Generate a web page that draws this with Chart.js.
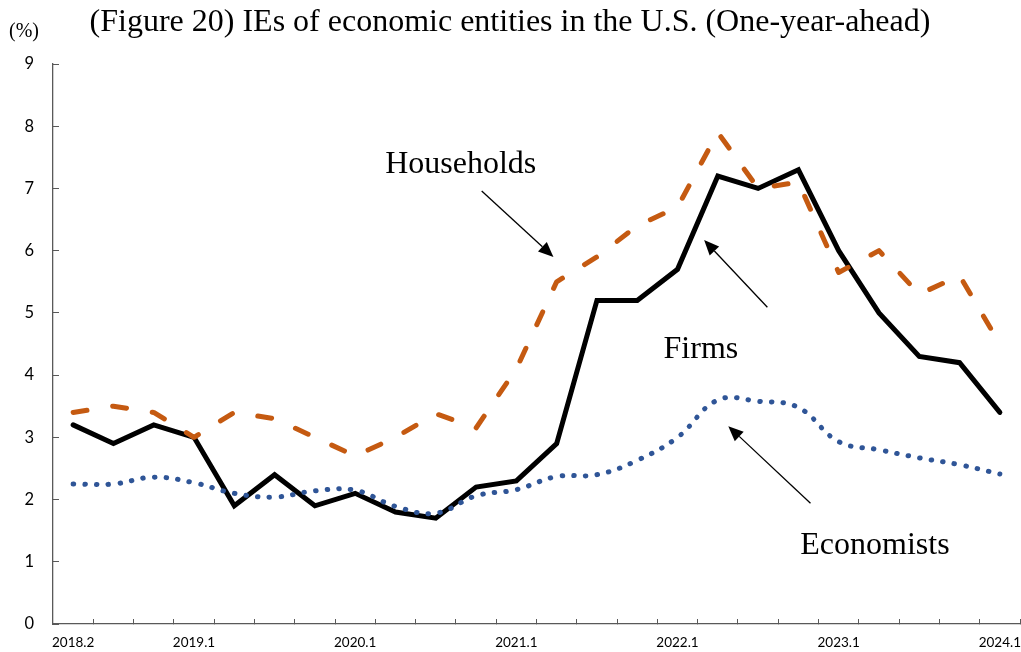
<!DOCTYPE html>
<html>
<head>
<meta charset="utf-8">
<script src="https://cdn.jsdelivr.net/npm/chart.js@4.4.1/dist/chart.umd.min.js"></script>
<style>
  html, body { margin: 0; padding: 0; background: #fff; }
  #wrap { width: 1021px; height: 652px; }
</style>
</head>
<body>
<div id="wrap"><canvas id="ies" width="1021" height="652"></canvas></div>
<script>
// quarters, 2018.2 .. 2024.1
const quarters = [
  '2018.2','2018.3','2018.4',
  '2019.1','2019.2','2019.3','2019.4',
  '2020.1','2020.2','2020.3','2020.4',
  '2021.1','2021.2','2021.3','2021.4',
  '2022.1','2022.2','2022.3','2022.4',
  '2023.1','2023.2','2023.3','2023.4',
  '2024.1'
];
const households = [3.4, 3.5, 3.4, 3.0, 3.4, 3.3, 3.0, 2.7, 3.0, 3.38, 3.15, 4.1, 5.5, 5.9, 6.4, 6.7, 7.9, 7.0, 7.1, 5.65, 6.0, 5.3, 5.6, 4.5];
const firms      = [3.2, 2.9, 3.2, 3.0, 1.9, 2.4, 1.9, 2.1, 1.8, 1.7, 2.2, 2.3, 2.9, 5.2, 5.2, 5.7, 7.2, 7.0, 7.3, 6.0, 5.0, 4.3, 4.2, 3.4];
const economists = [2.25, 2.25, 2.36, 2.27, 2.1, 2.04, 2.14, 2.15, 1.89, 1.78, 2.06, 2.16, 2.37, 2.4, 2.63, 3.0, 3.6, 3.58, 3.48, 2.93, 2.8, 2.67, 2.56, 2.41];
const yTicks = [0, 1, 2, 3, 4, 5, 6, 7, 8, 9];

// series names written next to the lines (x = quarter index, y = %)
const notes = [
  { text: 'Households', x: 9.62,  y: 7.25 },
  { text: 'Firms',      x: 15.58, y: 4.28 },
  { text: 'Economists', x: 19.90, y: 1.125 }
];
const pointers = [
  { from: [10.14, 6.96], to: [11.92, 5.90] },
  { from: [17.23, 5.09], to: [15.66, 6.17] },
  { from: [18.30, 1.94], to: [16.26, 3.18] }
];

const serif = '"Liberation Serif", "Times New Roman", serif';
const axisColor = '#595959';

const annotate = {
  id: 'annotate',
  afterDraw(chart) {
    const ctx = chart.ctx;
    const xs = chart.scales.x, ys = chart.scales.y;
    ctx.save();
    ctx.fillStyle = '#000';
    ctx.font = '20px ' + serif;
    ctx.textAlign = 'left';
    ctx.textBaseline = 'alphabetic';
    ctx.fillText('(%)', 9, 37);

    ctx.font = '32px ' + serif;
    ctx.textAlign = 'center';
    notes.forEach(n => {
      ctx.fillText(n.text, xs.getPixelForValue(n.x), ys.getPixelForValue(n.y));
    });

    ctx.strokeStyle = '#000';
    ctx.lineWidth = 1.3;
    pointers.forEach(p => {
      const x1 = xs.getPixelForValue(p.from[0]), y1 = ys.getPixelForValue(p.from[1]);
      const x2 = xs.getPixelForValue(p.to[0]),   y2 = ys.getPixelForValue(p.to[1]);
      const a = Math.atan2(y2 - y1, x2 - x1);
      const len = 15, half = 6.5;
      const bx = x2 - len * Math.cos(a), by = y2 - len * Math.sin(a);
      ctx.beginPath();
      ctx.moveTo(x1, y1);
      ctx.lineTo(bx, by);
      ctx.stroke();
      ctx.beginPath();
      ctx.moveTo(x2, y2);
      ctx.lineTo(bx + half * Math.sin(a), by - half * Math.cos(a));
      ctx.lineTo(bx - half * Math.sin(a), by + half * Math.cos(a));
      ctx.closePath();
      ctx.fill();
    });
    ctx.restore();
  }
};

new Chart(document.getElementById('ies'), {
  type: 'line',
  data: {
    labels: quarters,
    datasets: [
      {
        label: 'Households',
        data: households,
        borderColor: '#C55A11',
        borderWidth: 5,
        borderDash: [14, 26],
        borderCapStyle: 'round',
        borderJoinStyle: 'round',
        pointRadius: 0,
        tension: 0
      },
      {
        label: 'Economists',
        data: economists,
        borderColor: '#2F5597',
        borderWidth: 5,
        borderDash: [0.5, 11.2],
        borderCapStyle: 'round',
        pointRadius: 0,
        tension: 0.4
      },
      {
        label: 'Firms',
        data: firms,
        borderColor: '#000000',
        borderWidth: 5,
        borderCapStyle: 'round',
        borderJoinStyle: 'miter',
        pointRadius: 0,
        tension: 0
      }
    ]
  },
  options: {
    responsive: false,
    animation: false,
    layout: { padding: { left: 0, right: 1, top: 0, bottom: 0 } },
    plugins: {
      legend: { display: false },
      tooltip: { enabled: false },
      title: {
        display: true,
        text: '(Figure 20) IEs of economic entities in the U.S. (One-year-ahead)',
        color: '#000',
        font: { family: serif, size: 32, weight: 'normal' },
        padding: { top: 3, bottom: 22.6 }
      }
    },
    scales: {
      x: {
        offset: true,
        grid: {
          offset: true,
          drawOnChartArea: false,
          drawTicks: true,
          tickLength: -5,
          color: axisColor
        },
        border: { color: axisColor, width: 1.3 },
        ticks: {
          autoSkip: false,
          maxRotation: 0,
          padding: 16,
          color: '#000',
          font: { family: 'Lato', size: 13.5 },
          callback: (v, i) => (i === 0 || quarters[i].endsWith('.1')) ? quarters[i] : ''
        },
        afterFit: s => {
          s.height = 28;
          s.paddingLeft = 0;
          s.paddingRight = 0;
        }
      },
      y: {
        min: 0,
        max: 9,
        afterBuildTicks: s => { s.ticks = yTicks.map(v => ({ value: v })); },
        grid: {
          drawOnChartArea: false,
          drawTicks: true,
          tickLength: -6,
          color: axisColor
        },
        border: { color: axisColor, width: 1.3 },
        ticks: {
          padding: 25,
          color: '#000',
          font: { family: 'Lato', size: 16.5 }
        },
        afterFit: s => {
          s.width = 53;
          s.paddingBottom = 0;
        }
      }
    }
  },
  plugins: [annotate]
});
</script>
</body>
</html>
